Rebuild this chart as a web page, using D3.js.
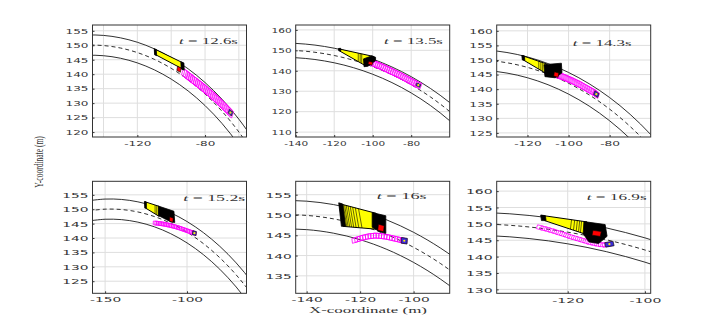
<!DOCTYPE html>
<html>
<head>
<meta charset="utf-8">
<script src="https://cdn.jsdelivr.net/npm/d3@7"></script>
<style>
  body { margin: 0; background: #fff; }
</style>
</head>
<body>
<svg id="chart" width="718" height="330"></svg>
<script>
// road geometry (world coordinates, m)
const roadX      = [-160, -150, -140, -130, -120, -110, -100, -90, -80, -70, -60, -50, -45];
const roadUpper  = [152.96, 153.53, 153.40, 152.57, 151.04, 148.77, 145.73, 141.87, 137.12, 131.36, 124.45, 116.16, 111.40];
const roadCenter = [149.44, 150.02, 149.89, 149.05, 147.47, 145.15, 142.03, 138.06, 133.15, 127.20, 120.03, 111.38, 106.39];
const roadLower  = [145.93, 146.52, 146.39, 145.52, 143.91, 141.52, 138.31, 134.22, 129.16, 123.00, 115.54, 106.50, 101.24];

// one entry per panel
const times = ["12.6", "13.5", "14.3", "15.2", "16", "16.9"];
const xDomains = [[-146.5, -55.5], [-140, -60], [-135, -60], [-157.7, -63.7], [-144.1, -86.5], [-138.4, -98.5]];
const yDomains = [[118.3, 157], [107.6, 162.4], [123.6, 162], [120.8, 159.7], [130.7, 158.3], [128.8, 163]];
const xTicks = [[-120, -80], [-140, -120, -100, -80], [-120, -100, -80], [-150, -100], [-140, -120, -100], [-120, -100]];
const xGrid = [[-140, -120, -100, -80, -60], [-140, -120, -100, -80], [-120, -100, -80], [-150, -100], [-140, -120, -100], [-120, -100]];
const yTicks = [
  [120, 125, 130, 135, 140, 145, 150, 155],
  [110, 120, 130, 140, 150, 160],
  [125, 130, 135, 140, 145, 150, 155, 160],
  [125, 130, 135, 140, 145, 150, 155],
  [135, 140, 145, 150, 155],
  [130, 135, 140, 145, 150, 155, 160]
];

// swept area of the ego vehicle (yellow), dense front / back parts (black)
const yellowArea = [
  [[-109.8, 148.7], [-93, 143.9], [-92.6, 141.6], [-109.4, 146.8]],
  [[-117.5, 150.7], [-99.5, 147.0], [-104, 142.6], [-117, 149.6]],
  [[-122.5, 151.5], [-110.5, 148.6], [-110.5, 145.2], [-122, 150]],
  [[-125.7, 152.6], [-117, 151], [-117, 147.5], [-125.3, 150.4]],
  [[-127.8, 152.8], [-114, 150.4], [-114, 146.5], [-126.5, 147.2]],
  [[-126.8, 152.6], [-115, 150.6], [-114.5, 146.5], [-126, 151]]
];
const blackFront = [
  [[-94.3, 144.3], [-92.5, 143.9], [-92.3, 141.4], [-94.1, 141.8]],
  [[-104.8, 145.8], [-100.5, 147.3], [-98.5, 146.6], [-98.5, 145], [-102.5, 142.2], [-104.5, 142]],
  [[-112, 148.4], [-103.5, 148.9], [-103.2, 145.6], [-106.5, 143.9], [-111.5, 144.3]],
  [[-117.5, 151.1], [-108, 149.3], [-107.5, 145.4], [-109.8, 145.6], [-117.5, 147.8]],
  [[-115.5, 150.6], [-110.4, 149.8], [-110.4, 145.5], [-112.5, 145.8], [-115.5, 147]],
  [[-115.8, 150.7], [-110.3, 149.8], [-109.8, 146.2], [-112, 144], [-114.5, 144.5], [-116, 147]]
];
const blackBack = [
  [[-110, 148.8], [-108.8, 148.5], [-108.6, 146.4], [-109.8, 146.7]],
  [[-117.8, 150.9], [-116.6, 151.0], [-116.6, 149.6], [-117.6, 149.7]],
  [[-122.8, 151.6], [-121.5, 151.4], [-121.3, 149.8], [-122.5, 150.0]],
  [[-126, 152.7], [-124.8, 152.5], [-124.8, 150.3], [-125.8, 150.4]],
  [[-128, 153], [-126.5, 152.7], [-125.5, 147.3], [-127, 147.2]],
  [[-127, 152.7], [-125.8, 152.5], [-125.6, 151], [-126.8, 151]]
];
// edges of the stacked footprints visible inside the yellow area
const sweptEdges = [
  [],
  [[[-107.5, 148.6], [-107.5, 144.5]], [[-106.5, 148.4], [-106.5, 144.0]], [[-105.7, 148.3], [-105.7, 143.5]]],
  [[[-114.5, 149.57], [-114.5, 146.87]], [[-113.5, 149.33], [-113.5, 146.45]], [[-112.6, 149.11], [-112.6, 146.08]]],
  [[[-119.5, 151.46], [-119.5, 148.37]], [[-118.5, 151.28], [-118.5, 148.02]]],
  [[[-127.3, 152.71], [-126.0, 147.17]], [[-126.8, 152.63], [-125.5, 147.14]], [[-126.3, 152.54], [-125.0, 147.12]],
   [[-125.8, 152.45], [-124.5, 147.09]], [[-125.2, 152.35], [-123.9, 147.05]], [[-124.5, 152.23], [-123.2, 147.02]],
   [[-123.7, 152.09], [-122.4, 146.97]], [[-122.8, 151.93], [-121.5, 146.92]], [[-121.8, 151.76], [-120.5, 146.86]],
   [[-120.6, 151.55], [-119.3, 146.80]]],
  [[[-119, 151.28], [-119.3, 148.4]], [[-118.2, 151.14], [-118.5, 148.1]], [[-117.5, 151.02], [-117.8, 147.8]],
   [[-116.9, 150.92], [-117.2, 147.55]], [[-116.4, 150.84], [-116.7, 147.35]]]
];
// red vehicle: centre x, centre y, heading (deg)
const redCar = [[-95.4, 141.7, -17], [-101.2, 143.7, -15], [-106, 145, -12], [-109.6, 146.4, -12], [-112.2, 146.8, -10], [-112.5, 147.1, -10]];

// predicted path of the other vehicle (magenta), box length / width per panel
const pathX = [
  [-92, -91, -90, -89, -88, -87, -86, -85, -84, -83, -82, -81, -80, -79, -78, -77, -76, -75, -74, -73, -72, -71, -70, -69, -68, -67, -66, -65],
  [-101, -100, -99, -98, -97, -96, -95, -94, -93, -92, -91, -90, -89, -88, -87, -86, -85, -84, -83, -82, -81, -80, -79, -78, -77, -76.3],
  [-110, -109, -108, -107, -106, -105, -104, -103, -102, -101, -100, -99, -98, -97, -96, -95, -94, -93, -92, -91, -90, -89, -88, -87, -86.5],
  [-119.5, -118.5, -117.5, -116.5, -115.5, -114.5, -113.5, -112.5, -111.5, -110.5, -109.5, -108.5, -107.5, -106.5, -105.5, -104.5, -103.5, -102.5, -101.5, -100.5, -99.5, -98.5, -97.5, -96.5, -95.5],
  [-122, -121, -120, -119, -118, -117, -116, -115, -114, -113, -112, -111, -110, -109, -108, -107, -106, -105, -104, -103.5],
  [-127.2, -126.2, -125.2, -124.2, -123.2, -122.2, -121.2, -120.2, -119.2, -118.2, -117.2, -116.2, -115.2, -114.2, -113.2, -112.2, -111.2, -110.2, -109.2]
];
const pathY = [
  [140.3, 139.85, 139.4, 138.95, 138.5, 138.05, 137.6, 137.15, 136.7, 136.25, 135.8, 135.3, 134.85, 134.35, 133.85, 133.35, 132.85, 132.3, 131.8, 131.25, 130.7, 130.15, 129.6, 129.0, 128.45, 127.9, 127.3, 126.7],
  [144.2, 143.8, 143.4, 143.0, 142.6, 142.2, 141.8, 141.4, 140.95, 140.5, 140.05, 139.6, 139.15, 138.7, 138.25, 137.8, 137.3, 136.8, 136.3, 135.8, 135.3, 134.8, 134.3, 133.8, 133.3, 133.0],
  [145.9, 145.7, 145.5, 145.25, 145.0, 144.75, 144.5, 144.25, 144.0, 143.7, 143.4, 143.1, 142.8, 142.45, 142.1, 141.75, 141.4, 141.0, 140.6, 140.2, 139.8, 139.4, 139.0, 138.55, 138.3],
  [145.2, 145.15, 145.1, 145.0, 144.95, 144.85, 144.75, 144.65, 144.5, 144.4, 144.25, 144.1, 143.95, 143.8, 143.6, 143.45, 143.25, 143.05, 142.85, 142.65, 142.45, 142.25, 142.05, 141.85, 141.7],
  [143.8, 144.0, 144.2, 144.4, 144.55, 144.7, 144.8, 144.85, 144.9, 144.85, 144.8, 144.7, 144.6, 144.45, 144.3, 144.15, 144.0, 143.85, 143.7, 143.65],
  [148.9, 148.6, 148.3, 147.95, 147.6, 147.2, 146.85, 146.45, 146.05, 145.7, 145.35, 145.0, 144.65, 144.3, 144.05, 143.8, 143.65, 143.6, 143.8]
];
const pathBox = [[3.0, 2.6], [3.0, 2.8], [2.6, 2.0], [2.2, 1.3], [2.0, 1.2], [1.6, 1.2]];

const panelLeft = [92.5, 295.7, 496.7];
const panelTop = [25, 181.3];
const pw = 154, ph = 112;
// each sub-figure was stretched sideways by a different amount in the source
const tickFont = [6.8, 6.8, 6.8, 7.3, 7.3, 7.8];
const tickStretch = [1.77, 1.55, 1.8, 1.88, 1.88, 1.8];
// time label: left x, baseline y (inside panel), width
const labelBox = [[86.5, 18.8, 59], [88.3, 18.8, 59], [76, 20.5, 59], [90.8, 19.5, 62], [81, 17.5, 50], [90, 18.5, 60]];

const svg = d3.select("#chart");

function carCorners(cx, cy, len, wid, deg) {
  const a = deg * Math.PI / 180, c = Math.cos(a), s = Math.sin(a);
  return [[-len / 2, -wid / 2], [len / 2, -wid / 2], [len / 2, wid / 2], [-len / 2, wid / 2]]
    .map(([u, v]) => [cx + u * c - v * s, cy + u * s + v * c]);
}

// squeeze/stretch a text node horizontally to a target width
function fitText(sel, x, y, width) {
  const w = sel.node().getComputedTextLength();
  sel.attr("transform", `translate(${x}, ${y}) scale(${width / w}, 1)`);
}

times.forEach((t, i) => {
  const col = i % 3, row = Math.floor(i / 3);
  const g = svg.append("g")
    .attr("transform", `translate(${panelLeft[col]}, ${panelTop[row]})`);

  const x = d3.scaleLinear().domain(xDomains[i]).range([0, pw]);
  const y = d3.scaleLinear().domain(yDomains[i]).range([ph, 0]);

  g.append("clipPath").attr("id", "clip" + i)
    .append("rect").attr("width", pw).attr("height", ph);

  // grid
  g.append("g").selectAll("line").data(xGrid[i]).join("line")
    .attr("x1", d => x(d)).attr("x2", d => x(d))
    .attr("y1", 0).attr("y2", ph)
    .attr("stroke", "#dedede").attr("stroke-width", 1);
  g.append("g").selectAll("line").data(yTicks[i]).join("line")
    .attr("x1", 0).attr("x2", pw)
    .attr("y1", d => y(d)).attr("y2", d => y(d))
    .attr("stroke", "#dedede").attr("stroke-width", 1);

  const plot = g.append("g").attr("clip-path", `url(#clip${i})`);

  // road
  const road = d3.line().curve(d3.curveCatmullRom)
    .x((d, k) => x(roadX[k])).y(d => y(d));
  [[roadUpper, null], [roadCenter, "4,3"], [roadLower, null]].forEach(([ys, dash]) => {
    plot.append("path").attr("d", road(ys))
      .attr("fill", "none").attr("stroke", "#1a1a1a").attr("stroke-width", 0.9)
      .attr("stroke-dasharray", dash);
  });

  const poly = d3.line().x(d => x(d[0])).y(d => y(d[1]));

  // predicted path of other vehicle
  const px = pathX[i], py = pathY[i];
  const [bl, bw] = pathBox[i];
  px.forEach((vx, k) => {
    const k2 = Math.min(k + 1, px.length - 1), k1 = k2 - 1;
    const deg = Math.atan2(py[k2] - py[k1], px[k2] - px[k1]) * 180 / Math.PI;
    plot.append("path")
      .attr("d", poly(carCorners(vx, py[k], bl, bw, deg)) + "Z")
      .attr("fill", "none").attr("stroke", "#ff00ff").attr("stroke-width", 0.8);
  });
  const last = px.length - 1;
  const degEnd = Math.atan2(py[last] - py[last - 1], px[last] - px[last - 1]) * 180 / Math.PI;
  plot.append("path")
    .attr("d", poly(carCorners(px[last], py[last], 2.2, 1.4, degEnd)) + "Z")
    .attr("fill", "#3a2bd8").attr("stroke", "#111").attr("stroke-width", 0.7);
  plot.append("circle")
    .attr("cx", x(px[last])).attr("cy", y(py[last])).attr("r", 1.1)
    .attr("fill", "#ffee00");

  // swept area of ego vehicle
  plot.append("path").attr("d", poly(yellowArea[i]) + "Z")
    .attr("fill", "#ffff00").attr("stroke", "#000").attr("stroke-width", 1);
  plot.append("g").selectAll("path").data(sweptEdges[i]).join("path")
    .attr("d", d => poly(d))
    .attr("fill", "none").attr("stroke", "#000").attr("stroke-width", 0.6);
  plot.append("path").attr("d", poly(blackBack[i]) + "Z")
    .attr("fill", "#000").attr("stroke", "#000").attr("stroke-width", 0.8);
  plot.append("path").attr("d", poly(blackFront[i]) + "Z")
    .attr("fill", "#000").attr("stroke", "#000").attr("stroke-width", 0.8);

  const [rx, ry, rdeg] = redCar[i];
  plot.append("path").attr("d", poly(carCorners(rx, ry, 2.2, 1.5, rdeg)) + "Z")
    .attr("fill", "#ff0000").attr("stroke", "#000").attr("stroke-width", 0.6);

  // axes, ticks pointing inward
  const s = tickStretch[i];
  const xAxis = d3.axisBottom(x).tickValues(xTicks[i]).tickFormat(d => String(d))
    .tickSizeInner(-2).tickSizeOuter(0).tickPadding(0);
  const yAxis = d3.axisLeft(y).tickValues(yTicks[i]).tickFormat(d => String(d))
    .tickSizeInner(-2).tickSizeOuter(0).tickPadding(0);

  const gx = g.append("g").attr("transform", `translate(0, ${ph})`).call(xAxis);
  gx.selectAll("text")
    .attr("y", 4).attr("dy", "0.71em")
    .attr("transform", `scale(${s}, 1)`);
  const gy = g.append("g").call(yAxis);
  gy.selectAll("text")
    .attr("x", -4 / s).attr("dy", "0.34em")
    .attr("transform", `scale(${s}, 1)`);
  [gx, gy].forEach(a => {
    a.select(".domain").remove();
    a.selectAll("line").attr("stroke", "#333");
    a.selectAll("text").attr("fill", "#333")
      .style("font-family", "'DejaVu Sans', sans-serif").style("font-size", tickFont[i] + "px");
  });

  g.append("rect").attr("width", pw).attr("height", ph)
    .attr("fill", "none").attr("stroke", "#333").attr("stroke-width", 1);

  // time label
  const lab = g.append("text")
    .attr("fill", "#333")
    .style("font-family", "'Liberation Serif', serif").style("font-size", "8px");
  lab.append("tspan").style("font-style", "italic").text("t");
  lab.append("tspan").text(" = " + t + "s");
  fitText(lab, labelBox[i][0], labelBox[i][1], labelBox[i][2]);
});

// axis titles
const xTitle = svg.append("text")
  .attr("fill", "#333")
  .style("font-family", "'Liberation Serif', serif").style("font-size", "8.6px")
  .text("X-coordinate (m)");
fitText(xTitle, 309, 313, 118);

svg.append("text")
  .attr("transform", "translate(43, 162) scale(1.72, 1) rotate(-90)")
  .attr("text-anchor", "middle").attr("fill", "#333")
  .style("font-family", "'Liberation Serif', serif").style("font-size", "7.5px")
  .text("Y-coordinate (m)");
</script>
</body>
</html>
